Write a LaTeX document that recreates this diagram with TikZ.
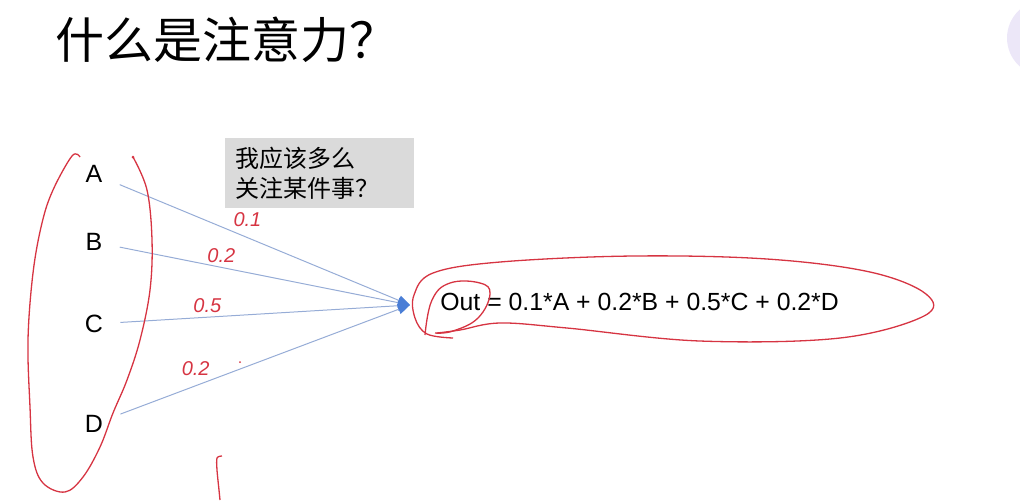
\documentclass[tikz,border=0pt]{standalone}
\usepackage{fontspec}
\setmainfont{Liberation Sans}
\newfontfamily\cjk{Noto Sans CJK SC}
\usetikzlibrary{arrows.meta, positioning}
\definecolor{pen}{RGB}{214,52,66}
\definecolor{wireblue}{RGB}{150,172,214}
\definecolor{tipblue}{RGB}{74,126,214}
\definecolor{boxgray}{RGB}{218,218,218}
\definecolor{lavender}{RGB}{236,231,248}
\tikzset{
  title/.style={font=\cjk\fontsize{24.5}{28}\selectfont, anchor=west, inner sep=0pt},
  question/.style={rectangle, fill=boxgray, minimum width=94.5pt, minimum height=35pt,
    align=left, text width=84.5pt, inner xsep=5pt, anchor=north west,
    font=\cjk\fontsize{12}{15}\selectfont},
  letter/.style={font=\fontsize{12.5}{14}\selectfont, inner xsep=8.5pt, inner ysep=2pt},
  formula/.style={font=\fontsize{12.4}{14}\selectfont, anchor=west, inner sep=0pt},
  wire/.style={draw=wireblue, line width=0.5pt, -{Triangle[length=6pt, width=5pt, color=tipblue]}},
  weight/.style={text=pen, font=\itshape\fontsize{10}{11}\selectfont, inner sep=1pt},
  stroke/.style={draw=pen, line width=0.65pt},
}
\begin{document}
\begin{tikzpicture}[x=0.5pt, y=-0.5pt]
  \useasboundingbox (0,0) rectangle (1020,500);
  \fill[lavender] (1045,38) circle (38);

  \node[title] (title) at (55,40) {什么是注意力？};
  \node[question] (ask) at (225,138) {我应该多么\\关注某件事？};

  \node[letter] (A) at (94,174) {A};
  \node[letter] (B) at (94,242) {B};
  \node[letter] (C) at (94,324) {C};
  \node[letter] (D) at (94,424) {D};
  \coordinate (hub) at (410,305);
  \node[formula] (out) at (440,302) {Out = 0.1*A + 0.2*B + 0.5*C + 0.2*D};

  \draw[wire] (A) -- node[weight, pos=0.44, above=4pt] {0.1} (hub);
  \draw[wire] (B) -- node[weight, pos=0.35, above=1pt] {0.2} (hub);
  \draw[wire] (C) -- node[weight, pos=0.3, above=1pt] {0.5} (hub);
  \draw[wire] (D) -- node[weight, pos=0.26, above=4pt] {0.2} (hub);

  % hand-drawn marks
  \draw[stroke] plot[smooth, tension=0.6] coordinates {(80,157) (72,156) (53,190) (42,223)
    (33,273) (28,340) (30,407) (33,457) (43,483) (65,492) (83,477) (100,447) (113,413)
    (127,380) (140,340) (150,290) (152,240) (147,190) (133,157)};
  \fill[pen] (133,157) circle (1.5);
  \draw[stroke] plot[smooth, tension=0.6] coordinates {(453,338) (427,334) (415,318) (414,295)
    (433,273) (500,262) (633,256) (767,259) (870,272) (926,294) (924,316) (840,338)
    (700,341) (567,328) (500,323) (460,330) (437,333)};
  \draw[stroke] plot[smooth, tension=0.7] coordinates {(425,335) (432,300) (450,283) (480,283)
    (490,294) (478,318) (453,331) (435,333)};
  \draw[stroke] plot[smooth] coordinates {(222,456) (217,458) (217,470) (219,490) (220,500)};
  \fill[pen] (240,362) circle (1);
\end{tikzpicture}
\end{document}
